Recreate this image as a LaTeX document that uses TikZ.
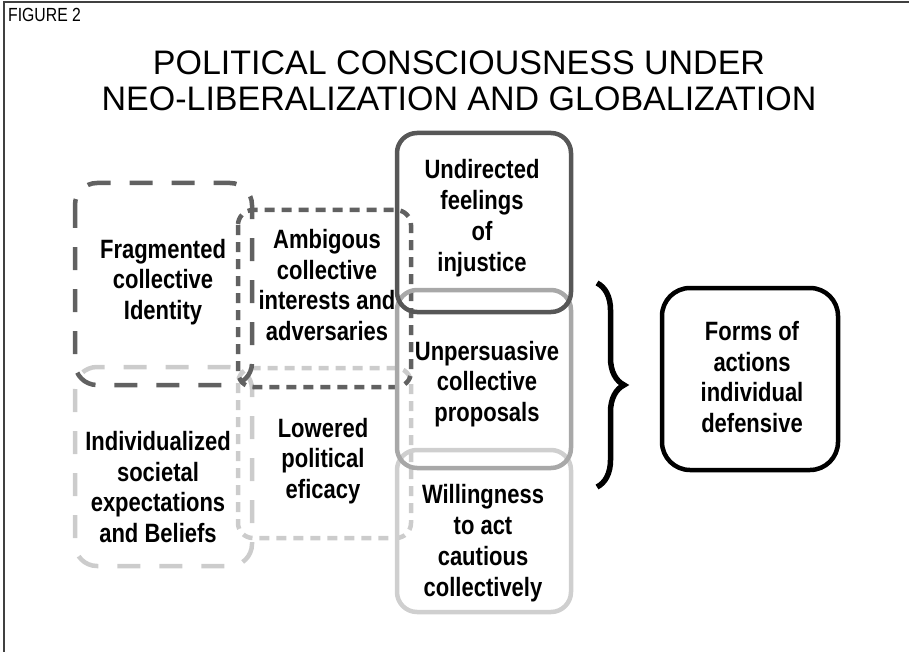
\documentclass[tikz,border=0pt]{standalone}
\usepackage{fontspec}
\setmainfont{Liberation Sans}
\newfontfamily\narrowfont[FakeStretch=0.83]{Liberation Sans}
\usetikzlibrary{decorations.pathreplacing}
\tikzset{
	boxtext/.style={align=center, font=\narrowfont\fontsize{26.5}{30.8}\selectfont\bfseries, inner sep=0pt},
	longdash/.style={dash pattern=on 23pt off 19pt},
	shortdash/.style={dash pattern=on 10pt off 7pt}
}

\begin{document}
\begin{tikzpicture}[x=1pt, y=-1pt]
			%%%%% START %%%%%
			\useasboundingbox (0, 0) rectangle (909, 652);
			
			\draw[line width=2pt, color=black!75] (4, 652) -- (4, 2) -- (909, 2);
			\node[anchor=base west, inner sep=0pt, font=\narrowfont\fontsize{19}{21}\selectfont] (figlabel) at (8, 22) {FIGURE 2};
			\node[align=center, inner sep=0pt, font=\fontsize{34}{36}\selectfont] (title) at (459, 81) {POLITICAL CONSCIOUSNESS UNDER\\NEO-LIBERALIZATION AND GLOBALIZATION};
			
			\draw[line width=4.5pt, color=black!20, longdash, rounded corners=22pt] (75, 367) rectangle (252, 566);
			\draw[line width=4.5pt, color=black!20, shortdash, rounded corners=15pt] (238, 368) rectangle (411, 538);
			\draw[line width=4.5pt, color=black!62, longdash, rounded corners=22pt] (75, 183) rectangle (252, 385);
			\draw[line width=4.5pt, color=black!62, shortdash, rounded corners=15pt] (238, 210) rectangle (411, 387);
			
			\draw[line width=4.5pt, color=black!19, rounded corners=20pt] (397, 450) rectangle (571, 612);
			\draw[line width=4.5pt, color=black!34, rounded corners=20pt] (397, 290) rectangle (571, 468);
			\draw[line width=4.5pt, color=black!66, rounded corners=20pt] (397, 133) rectangle (571, 312);
			
			\node[boxtext] (frag) at (163, 282) {Fragmented\\collective\\Identity};
			\node[boxtext] (ambig) at (327, 285) {Ambigous\\collective\\interests and\\adversaries};
			\node[boxtext] (indiv) at (158, 487) {Individualized\\societal\\expectations\\and Beliefs};
			\node[boxtext] (lowered) at (323, 461) {Lowered\\political\\eficacy};
			\node[boxtext] (undirected) at (482, 218) {Undirected\\feelings\\of\\injustice};
			\node[boxtext] (unpersuasive) at (487, 384) {Unpersuasive\\collective\\proposals};
			\node[boxtext] (willing) at (483, 543) {Willingness\\to act\\cautious\\collectively};
			
			\coordinate (bracetop) at (597, 283);
			\coordinate (bracebot) at (597, 487);
			\draw[line width=5.5pt, decorate, decoration={brace, amplitude=27pt}] (bracetop) -- (bracebot);
			
			\draw[line width=4.5pt, rounded corners=28pt] (662, 288) rectangle (838, 470);
			\node[boxtext] (forms) at (752, 377) {Forms of\\actions\\individual\\defensive};
			%%%%% END %%%%%
\end{tikzpicture}
\end{document}
